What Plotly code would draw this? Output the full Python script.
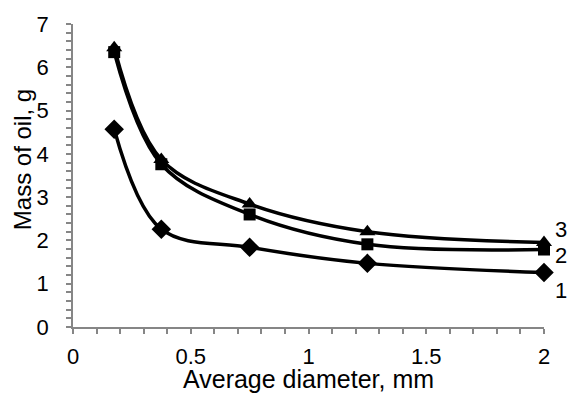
import plotly.graph_objects as go

diameter = [0.175, 0.375, 0.75, 1.25, 2.0]
series1 = [4.57, 2.26, 1.84, 1.47, 1.26]
series2 = [6.35, 3.76, 2.60, 1.91, 1.79]
series3 = [6.45, 3.87, 2.84, 2.20, 1.95]
labels = ["1", "2", "3"]
label_y = [0.85, 1.66, 2.26]
x_title = "Average diameter, mm"
y_title = "Mass of oil, g"

FONT = "Liberation Sans"

fig = go.Figure()
for ys, sym, ms in [(series1, "diamond", 15), (series2, "square", 12), (series3, "triangle-up", 14)]:
    fig.add_trace(go.Scatter(
        x=diameter, y=ys, mode="lines+markers",
        line=dict(color="black", width=3.5, shape="spline", smoothing=1.0),
        marker=dict(symbol=sym, size=ms, color="black"),
        showlegend=False, cliponaxis=False))

for lab, ly in zip(labels, label_y):
    fig.add_annotation(x=2.0, y=ly, xref="x", yref="y", text=lab, showarrow=False,
                       xanchor="left", xshift=9,
                       font=dict(family=FONT, size=22, color="black"))

fig.add_annotation(x=0.5, y=-0.121, xref="paper", yref="paper", text=x_title, showarrow=False,
                   xanchor="center", yanchor="top", borderpad=0,
                   font=dict(family=FONT, size=25, color="black"))
fig.add_annotation(x=-0.108, y=0.551, xref="paper", yref="paper", text=y_title, showarrow=False,
                   textangle=-90, xanchor="center", yanchor="middle",
                   font=dict(family=FONT, size=24, color="black"))

axis_common = dict(showline=True, linecolor="#868686", linewidth=1.5, ticks="outside",
                   tickcolor="#868686", ticklen=5, tickwidth=1.5, showgrid=False, zeroline=False,
                   automargin=False,
                   tickfont=dict(family=FONT, size=22, color="black"))

fig.update_xaxes(range=[0, 2], tickvals=[0, 0.5, 1, 1.5, 2], ticktext=["0", "0.5", "1", "1.5", "2"],
                 minor=dict(dtick=0.1, ticks="outside", ticklen=5, tickcolor="#868686", tickwidth=1.5),
                 ticklabelstandoff=4, **axis_common)
fig.update_yaxes(range=[0, 7], dtick=1,
                 minor=dict(dtick=0.2, ticks="outside", ticklen=5, tickcolor="#868686", tickwidth=1.5),
                 ticklabelstandoff=13, **axis_common)

fig.update_layout(width=569, height=394, plot_bgcolor="white", paper_bgcolor="white",
                  margin=dict(l=73, r=25, t=24, b=67))
fig.write_html("out.html", config={"displayModeBar": False},
               post_script="document.body.style.margin='0';document.body.style.overflow='hidden';")
